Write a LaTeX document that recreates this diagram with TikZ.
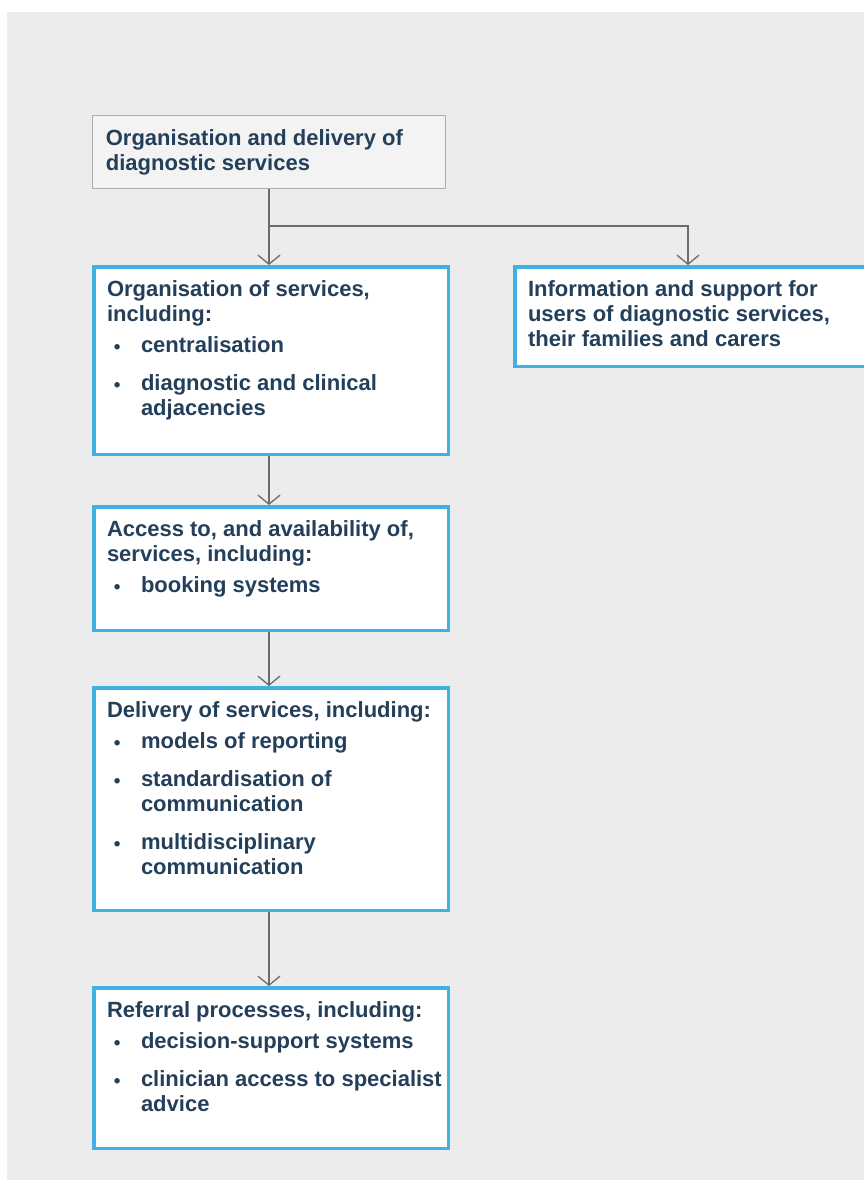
\documentclass[tikz,border=0pt]{standalone}
\usepackage{fontspec}
\setmainfont{Liberation Sans}
\usepackage{xcolor}
\usetikzlibrary{arrows.meta}

\definecolor{panelgray}{HTML}{ECECEC}
\definecolor{headfill}{HTML}{F3F3F3}
\definecolor{headline}{HTML}{A3AEB5}
\definecolor{boxblue}{HTML}{41B0E4}
\definecolor{textnavy}{HTML}{243F5A}
\definecolor{linkgray}{HTML}{6B6B6B}

% box contents: height, width, text
\newcommand\boxtext[3]{\hspace*{13.25pt}\parbox[c][#1][t]{#2}{\raggedright\rule{0pt}{29.5pt}\ignorespaces#3}}
% bulleted entry with hanging indent
\newcommand\bitem[2][13pt]{\par\vspace{#1}\hangindent=34pt\hangafter=0\noindent\llap{\raisebox{-1pt}{\fontsize{19}{19}\selectfont\textbullet}\hspace{20.5pt}}#2}

\tikzset{
	headbox/.style={draw=headline, fill=headfill, line width=1.2pt, inner sep=0pt, anchor=north west},
	itembox/.style={draw=boxblue, fill=white, line width=3.5pt, inner sep=0pt, anchor=north west},
	link/.style={draw=linkgray, line width=1.3pt, -{Straight Barb[length=9pt,width=22pt]}}
}

\begin{document}
\begin{tikzpicture}[x=1pt,y=-1pt,font=\fontsize{22}{25}\selectfont\bfseries,text=textnavy]
		
		\clip (0,0) rectangle (864,1180);
		\fill[white] (0,0) rectangle (864,1180);
		\fill[panelgray] (7,12) rectangle (864,1180);
		
		\node[headbox] (delivery) at (92,115) {\boxtext{72.8pt}{339.5pt}{Organisation and delivery of\\ diagnostic services}};
		
		\node[itembox] (organisation) at (92,265) {\boxtext{187.5pt}{341.25pt}{Organisation of services,\\ including:
			\bitem[6.5pt]{centralisation}
			\bitem{diagnostic and clinical\newline adjacencies}}};
		\node[itembox] (access) at (92,505) {\boxtext{123.5pt}{341.25pt}{Access to, and availability of,\\ services, including:
			\bitem[6.5pt]{booking systems}}};
		\node[itembox] (servicedelivery) at (92,686) {\boxtext{222.5pt}{341.25pt}{Delivery of services, including:
			\bitem[6.5pt]{models of reporting}
			\bitem{standardisation of\newline communication}
			\bitem{multidisciplinary\newline communication}}};
		\node[itembox] (referral) at (92,986) {\boxtext{160.5pt}{341.25pt}{Referral processes, including:
			\bitem[6.5pt]{decision-support systems}
			\bitem{clinician access to specialist\newline advice}}};
		
		\node[itembox] (support) at (513,265) {\boxtext{99.5pt}{342.25pt}{Information and support for\\ users of diagnostic services,\\ their families and carers}};
		
		\coordinate (split) at (delivery.south |- 0,226);
		\coordinate (supporttop) at (688,265);
		
		\draw[link] (delivery.south) -- (organisation.north -| delivery.south);
		\draw[link] (split) -| (supporttop);
		\foreach \a/\b in {organisation/access, access/servicedelivery, servicedelivery/referral}
			\draw[link] (\a.south -| delivery.south) -- (\b.north -| delivery.south);
		
	\end{tikzpicture}
\end{document}
